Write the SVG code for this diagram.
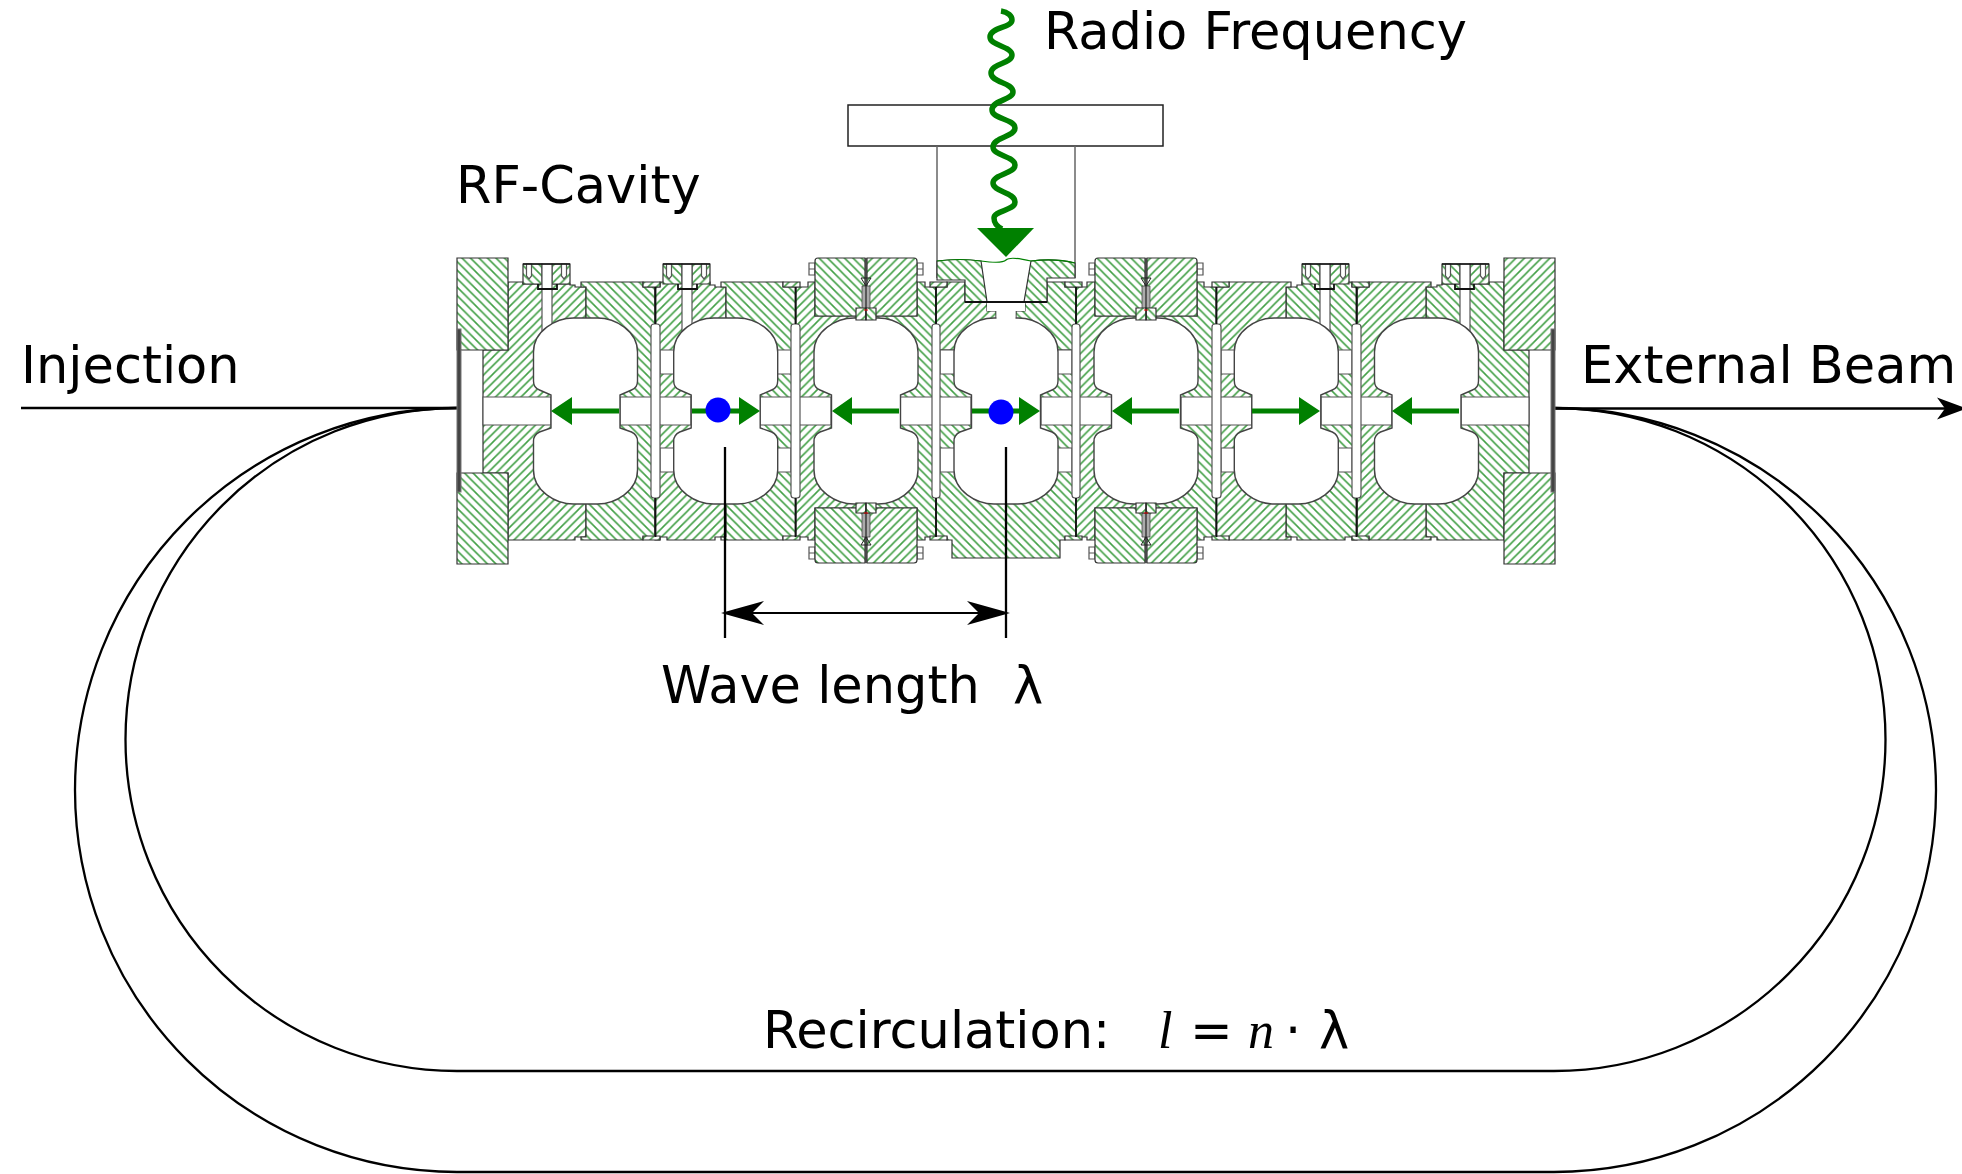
<svg xmlns="http://www.w3.org/2000/svg" width="1962" height="1174" viewBox="0 0 1962 1174">
<style>
text{font-family:"DejaVu Sans",sans-serif;font-size:51px;fill:#000;white-space:pre}
.it{font-family:"Liberation Serif",serif;font-style:italic;font-size:52px}
.f{fill:url(#hf);stroke:#333;stroke-width:1.2}
.b{fill:url(#hb);stroke:#333;stroke-width:1.2}
.w{fill:#fff;stroke:#555;stroke-width:1.2}
.cv{fill:#fff;stroke:#444;stroke-width:1.4}
.k{fill:none;stroke:#000;stroke-width:2.300}
.g{fill:#008000}
.sh{fill:none;stroke:#008000;stroke-width:5}
.wv{fill:none;stroke:#008000;stroke-width:5.500}
.s{fill:#aaa;stroke:#333;stroke-width:.7}
.bk{fill:none;stroke:#111;stroke-width:1.8}
</style>
<defs>
<pattern id="hf" width="8.500" height="8.500" patternUnits="userSpaceOnUse"><rect width="8.500" height="8.500" fill="#fff"/><path d="M-2,2L2,-2M0,8.500L8.500,0M6.500,10.500L10.500,6.500" stroke="#43a047" stroke-width="1.600"/></pattern>
<pattern id="hb" width="8.500" height="8.500" patternUnits="userSpaceOnUse"><rect width="8.500" height="8.500" fill="#fff"/><path d="M-2,6.500L2,10.500M0,0L8.500,8.500M6.500,-2L10.500,2" stroke="#43a047" stroke-width="1.600"/></pattern>
<marker id="ah" markerUnits="userSpaceOnUse" markerWidth="44" markerHeight="28" refX="12" refY="14" orient="auto-start-reverse"><path d="M0,2L43,14L0,26L12,14Z" fill="#000"/></marker>
<marker id="ax" markerUnits="userSpaceOnUse" markerWidth="34" markerHeight="26" refX="8" refY="13" orient="auto"><path d="M0,2L30,13L0,24L8,13Z" fill="#000"/></marker>
<path id="cav" class="cv" d="M-12,318H12C30,318 52,331 52,352V381Q52,388 46,390L34.5,395V428L46,432Q52,435 52,441V470C52,491 30,504 12,504H-12C-30,504 -52,491 -52,470V441Q-52,435 -46,432L-34.5,428V395L-46,390Q-52,388 -52,381V352C-52,331 -30,318 -12,318Z"/>
<g id="bolt">
<path class="b" d="M-23.5,264H-4.5V284H-23.5Z"/>
<path class="f" d="M5.500,264H23.500V284H5.500Z"/>
<rect class="w" x="-4.500" y="264" width="10" height="76"/>
<path class="bk" d="M-8.500,284V289H10.500V284"/>
<path class="w" d="M-20,264H-15V276L-17.500,279L-20,276Z"/>
<path class="w" d="M15,264H20V276L17.500,279L15,276Z"/>
<path d="M-23.500,264H23.500" stroke="#111" stroke-width="1.500" fill="none"/>
</g>
<g id="half">
<path class="f" d="M508,350V282H523V284H570V285H575V287H586V537H575V540H508V473H483V350Z"/>
<path class="b" d="M581,282H643V287H655V537H643V540H581V537H586V287H581Z"/>
<path class="f" d="M655,287H660V282H710V285H715V287H726V537H715V540H667V537H660V540H655Z"/>
<path class="b" d="M721,282H783V287H796V537H783V540H721V537H726V287H721Z"/>
<path class="f" d="M796,287H808V282H815V316H866V508H815V540H808V537H796Z"/>
<path class="b" d="M866,316H917V282H925V287H936V537H925V540H917V508H866Z"/>
<path class="f" d="M936,287H947V282H965V302H987V311H996V350H936Z"/>
<path class="f" d="M643,282H660V287H643ZM783,282H800V287H783ZM930,282H947V287H930ZM643,536H660V540H643ZM783,536H800V540H783ZM930,536H947V540H930Z"/>
<path class="w" d="M483,397H551V425H483ZM620,397H691V425H620ZM760,397H831V425H760ZM900,397H971V425H900Z"/>
<path class="w" d="M660,350H675V374H660ZM660,448H675V472H660ZM776,350H791V374H776ZM776,448H791V472H776ZM940,350H955V374H940ZM940,448H955V472H940Z"/>
<use href="#bolt" x="546.500"/>
<use href="#bolt" x="686.500"/>
<use href="#cav" x="585.500"/>
<use href="#cav" x="725.700"/>
<use href="#cav" x="866"/>
<rect class="w" x="651" y="324" width="9" height="174" rx="3"/>
<rect class="w" x="791" y="324" width="9" height="174" rx="3"/>
<rect class="w" x="932" y="324" width="8" height="174" rx="3"/>
<path class="bk" d="M655.500,287V324M655.500,498V537M795.500,287V324M795.500,498V537M936,287V324M936,498V537"/>
<path class="w" d="M809,263H815V275H809ZM809,269H815M917,263H923V275H917ZM917,269H923M809,547H815V559H809ZM809,553H815M917,547H923V559H917ZM917,553H923"/>
<path class="b" d="M818,258H865V316H815V261Q815,258 818,258Z"/>
<path class="f" d="M867,258H914Q917,258 917,261V316H867Z"/>
<path class="b" d="M815,508H865V563H818Q815,563 815,560Z"/>
<path class="f" d="M867,508H917V560Q917,563 914,563H867Z"/>
<path class="s" d="M862,286H870V310H862Z"/>
<path class="s" d="M862,513H870V537H862Z"/>
<path d="M861,278H871L866,286ZM861,545H871L866,537Z" fill="none" stroke="#222"/>
<path class="f" d="M856,308H866V320H856ZM856,503H866V513H856Z"/>
<path class="b" d="M866,308H876V320H866ZM866,503H876V513H866Z"/>
<path d="M866,258V320M866,503V563" stroke="#222" stroke-width="1.200"/>
<path d="M864,310H868M864,513H868" stroke="#e00" stroke-width="1.200"/>
<path class="b" d="M457,258H508V350H457Z"/>
<path class="b" d="M457,473H508V564H457Z"/>
<rect x="457" y="329" width="4" height="163" fill="#444" stroke="#777"/>
</g>
</defs>
<g id="recirculation" class="connectors">
<path class="k" d="M457,408A382,382 0 0 0 457,1172H1554A382,382 0 0 0 1554,408"/>
<path class="k" d="M457,408A331.500,331.500 0 0 0 457,1071H1554A331.500,331.500 0 0 0 1554,408"/>
<path class="k" d="M21,408H457"/>
<path d="M1555,408.500H1945" fill="none" stroke="#000" stroke-width="2.500" marker-end="url(#ax)"/>
</g>
<g id="rf-cavity">
<rect id="coupler-flange" x="848" y="105" width="315" height="41" fill="#fff" stroke="#222" stroke-width="1.500"/>
<path d="M937,146V278M1075,146V278" stroke="#666" stroke-width="1.500" fill="none"/>
<path class="b" d="M936,350H1076V537H1065V540H1060V558H952V540H947V537H936Z"/>
<use href="#half"/>
<use href="#half" transform="translate(2012,0) scale(-1,1)"/>
<use href="#cav" x="1006"/>
<path d="M987,303H1025V311H1015.500V322H996.500V311H987Z" fill="#fff"/>
<path d="M987,302H1025" stroke="#111" stroke-width="2"/>
<path class="b" d="M937,261Q960,258 981,261L987,302H965V280H937Z"/>
<path class="b" d="M1031,261Q1055,258 1075,263V278H1047V302H1024Z"/>
<path d="M965,302H1047" stroke="#111" stroke-width="2"/>
<path d="M937,261Q960,258 981,261T1006,260T1031,261Q1055,258 1075,263" fill="none" stroke="#008000" stroke-width="1.200"/>
</g>
<g id="field-arrows">
<path class="sh" d="M619,411H570M692,411H741M899,411H850M972,411H1021M1179,411H1130M1252,411H1301M1459,411H1410"/>
<path class="g" d="M551,411L572,397V425ZM760,411L739,397V425ZM832,411L852,397V425ZM1040,411L1019,397V425ZM1112,411L1132,397V425ZM1320,411L1299,397V425ZM1392,411L1412,397V425Z"/>
</g>
<g id="bunches">
<circle cx="718" cy="410" r="12.500" fill="#0000ff"/>
<circle cx="1001" cy="412" r="12.500" fill="#0000ff"/>
</g>
<g id="rf-wave">
<path class="wv" d="M1001,11C1008,12 1012,16 1012,20C1012,28 990,27 990,37C990,46 1012,46 1012,55C1012,64 991,63 991,73C991,83 1013,82 1013,92C1013,100 992,100 992,110C992,119 1015,119 1015,128C1015,137 993,137 993,147C993,156 1015,156 1015,165C1015,174 993,174 993,183C993,192 1015,192 1015,202C1015,211 994,210 994,218C994,224 998,227 1002,229"/>
<path class="g" d="M977,228H1034L1006,257Z"/>
</g>
<g id="wavelength-dimension" class="connectors">
<path class="k" d="M725,447V638M1006,447V638"/>
<path d="M752,613H979" fill="none" stroke="#000" stroke-width="2" marker-start="url(#ah)" marker-end="url(#ah)"/>
</g>
<g id="labels">
<text x="1044" y="49">Radio Frequency</text>
<text x="456" y="203">RF-Cavity</text>
<text x="21" y="383">Injection</text>
<text x="1581" y="383">External Beam</text>
<text x="661" y="703">Wave length  <tspan x="1013">λ</tspan></text>
<text x="763" y="1048">Recirculation:<tspan class="it" x="1158">l</tspan><tspan x="1190">=</tspan><tspan class="it" x="1248">n</tspan><tspan x="1285">·</tspan><tspan x="1319">λ</tspan></text>
</g>
</svg>
